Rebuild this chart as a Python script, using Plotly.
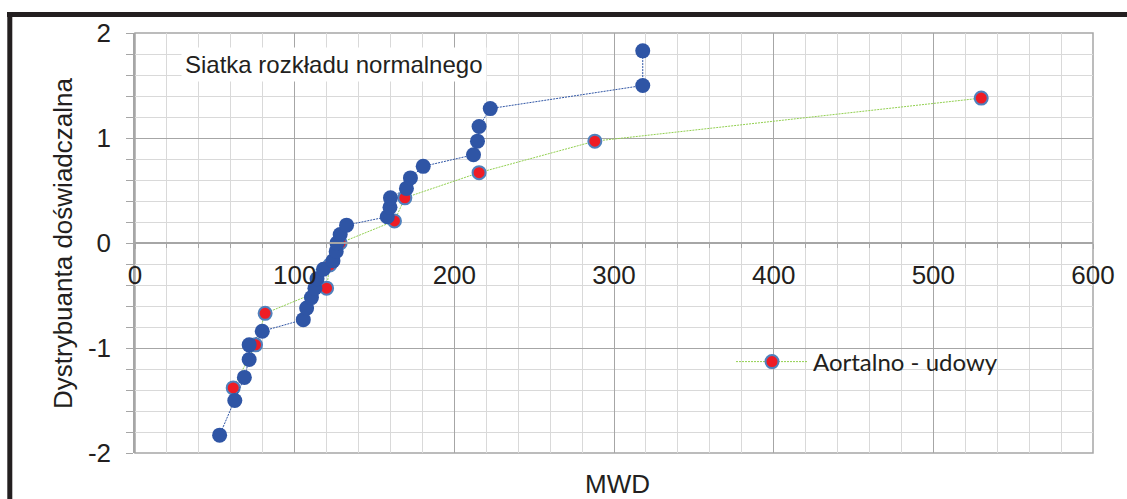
import plotly.graph_objects as go

# MWD values and empirical normal quantiles, group 1 (29 obs.)
mwd_all = [53, 62.5, 68.5, 71.5, 71.5, 79.7, 105.4, 107.5, 110.5, 112.7,
           114, 118, 124, 126, 126.5, 128.5, 132.5, 158, 159.7, 160,
           170, 172.5, 180.5, 212, 214.5, 215.5, 222.5, 318, 318]
z_all = [-1.83, -1.50, -1.28, -1.11, -0.97, -0.84, -0.73, -0.62, -0.52, -0.43,
         -0.34, -0.25, -0.17, -0.08, 0.00, 0.08, 0.17, 0.25, 0.34, 0.43,
         0.52, 0.62, 0.73, 0.84, 0.97, 1.11, 1.28, 1.50, 1.83]

# Aortalno - udowy group (11 obs.)
mwd_aorto = [61.5, 75.5, 81.5, 120, 122, 128.5, 162.5, 169, 215.5, 288, 530]
z_aorto = [-1.38, -0.97, -0.67, -0.43, -0.21, 0.00, 0.21, 0.43, 0.67, 0.97, 1.38]

x_ticks = [0, 100, 200, 300, 400, 500, 600]
x_tick_labels = ["0", "100", "200", "300", "400", "500", "600"]
y_ticks = [-2, -1, 0, 1, 2]
y_tick_labels = ["-2", "-1", "0", "1", "2"]

W, H = 1127, 499
L, R, T, B = 135, 34, 33, 46
pw, ph = W - L - R, H - T - B


def px_x(p):
    return (p - L) / pw


def px_y(p):
    return (H - B - p) / ph


MAJOR = "#a6a6a6"
MINOR = "#d9d9d9"
FONT = "Liberation Sans, Arial, sans-serif"

fig = go.Figure()

fig.add_trace(go.Scatter(
    x=mwd_aorto, y=z_aorto, mode="lines+markers", name="Aortalno - udowy",
    line=dict(color="#92d050", width=1, dash="2px,1px"),
    marker=dict(size=13, color="#ee1c25", line=dict(color="#4f81bd", width=2)),
    showlegend=True,
))
fig.add_trace(go.Scatter(
    x=mwd_all, y=z_all, mode="lines+markers", name="Wszystkie",
    line=dict(color="#2f55a5", width=1, dash="2px,1px"),
    marker=dict(size=15, color="#2f55a5", line=dict(width=0)),
    showlegend=False,
))

fig.update_xaxes(
    range=[0, 600], anchor="free", position=0.5,
    tickmode="array", tickvals=x_ticks, ticktext=x_tick_labels,
    showgrid=True, gridcolor=MAJOR, gridwidth=1,
    showline=True, linecolor=MAJOR, linewidth=1.5,
    ticks="outside", ticklen=5, tickcolor=MAJOR,
    ticklabelstandoff=4,
    zeroline=False,
    tickfont=dict(family=FONT, size=26, color="#231f20"),
    minor=dict(dtick=20, tick0=0, showgrid=True, gridcolor=MINOR,
               ticks="outside", ticklen=4, tickcolor=MAJOR),
)
fig.update_yaxes(
    range=[-2, 2],
    tickmode="array", tickvals=y_ticks, ticktext=y_tick_labels,
    showgrid=True, gridcolor=MAJOR, gridwidth=1,
    showline=True, linecolor=MAJOR, linewidth=1.5,
    ticks="outside", ticklen=7, tickcolor=MAJOR,
    ticklabelstandoff=10,
    zeroline=False,
    tickfont=dict(family=FONT, size=26, color="#231f20"),
    minor=dict(dtick=0.2, tick0=0, showgrid=True, gridcolor=MINOR,
               ticks="outside", ticklen=7, tickcolor=MAJOR),
)

shapes = [
    # plot frame
    dict(type="rect", xref="paper", yref="paper", x0=0, x1=1, y0=0, y1=1,
         line=dict(color=MAJOR, width=1.5), layer="below"),
    # outer chart border (top and left)
    dict(type="line", xref="paper", yref="paper",
         x0=px_x(7), x1=px_x(1130), y0=px_y(14.5), y1=px_y(14.5),
         line=dict(color="#231f20", width=5)),
    dict(type="line", xref="paper", yref="paper",
         x0=px_x(9.8), x1=px_x(9.8), y0=px_y(12), y1=px_y(505),
         line=dict(color="#231f20", width=5)),
]

annotations = [
    dict(text="Siatka rozkładu normalnego", xref="paper", yref="paper",
         x=px_x(334), y=px_y(65), xanchor="center", yanchor="middle",
         showarrow=False, bgcolor="white", borderpad=3,
         font=dict(family=FONT, size=24, color="#231f20")),
    dict(text="Dystrybuanta doświadczalna", xref="paper", yref="paper",
         x=px_x(63), y=px_y(244), xanchor="center", yanchor="middle",
         textangle=-90, showarrow=False,
         font=dict(family=FONT, size=26, color="#231f20")),
    dict(text="MWD", xref="paper", yref="paper",
         x=px_x(617), y=px_y(484), xanchor="center", yanchor="middle",
         showarrow=False,
         font=dict(family=FONT, size=26, color="#231f20")),
]

fig.update_layout(
    width=W, height=H,
    margin=dict(l=L, r=R, t=T, b=B, pad=0),
    paper_bgcolor="white", plot_bgcolor="white",
    shapes=shapes, annotations=annotations,
    legend=dict(x=px_x(731), y=px_y(362), xanchor="left", yanchor="middle",
                itemwidth=72,
                bgcolor="rgba(0,0,0,0)",
                font=dict(family="Lato, Open Sans, sans-serif", size=24,
                          color="#231f20")),
)

fig.write_html("out.html")
